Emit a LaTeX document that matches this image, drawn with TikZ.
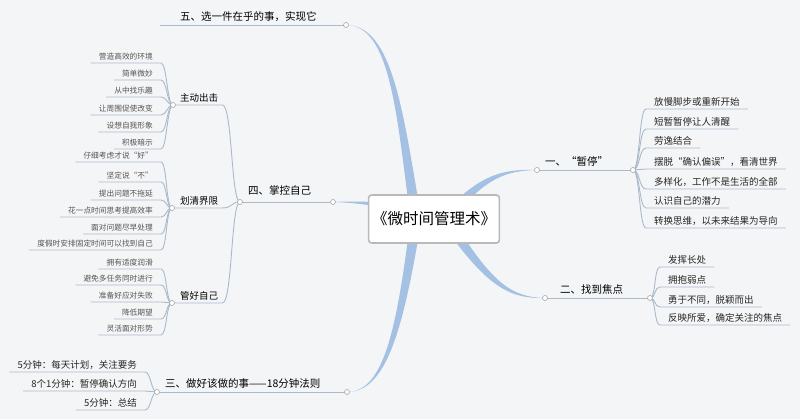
\documentclass[tikz,border=0pt]{standalone}
\usepackage{fontspec}
\setmainfont{Noto Sans CJK SC}
\usetikzlibrary{calc,backgrounds}

\definecolor{bgcol}{HTML}{F4F5F7}
\definecolor{trunkcol}{HTML}{A4C0E2}
\definecolor{twigcol}{HTML}{A9BACB}
\definecolor{leafgray}{HTML}{555555}

% tapered main branch: start, control 1, control 2, end, half width at start
\newcommand\branchtrunk[5]{%
  \fill[trunkcol] ($#1+#5$) .. controls ($#2+0.6*#5$) and ($#3+0.25*#5$) .. #4
    .. controls ($#3-0.25*#5$) and ($#2-0.6*#5$) .. ($#1-#5$) -- cycle;}

\begin{document}
\begin{tikzpicture}[x=1pt, y=-1pt,
  central/.style={rectangle, draw=gray!55, line width=1.6pt, fill=white, rounded corners=3pt, minimum width=128pt, minimum height=48pt, font=\fontsize{15.5}{18}\selectfont},
  topic/.style={anchor=south west, inner xsep=5pt, inner ysep=3pt, font=\fontsize{10.5}{12}\selectfont},
  subtopic/.style={anchor=south west, inner xsep=4pt, inner ysep=2.5pt, font=\fontsize{9.5}{11}\selectfont},
  leafr/.style={anchor=south west, inner xsep=8pt, inner ysep=2.5pt, text=black!85, font=\fontsize{9.5}{11}\selectfont},
  leafl/.style={anchor=south east, inner xsep=8pt, inner ysep=2.5pt, text=leafgray, font=\fontsize{7.7}{9}\selectfont},
  leafb/.style={anchor=south east, inner xsep=8pt, inner ysep=2.5pt, text=black!85, font=\fontsize{9.5}{11}\selectfont},
  twig/.style={draw=twigcol, line width=0.9pt},
  dot/.style={circle, draw=gray!70, fill=white, line width=0.6pt, inner sep=0pt, minimum size=5pt}]

  \useasboundingbox (0,0) rectangle (800,419);

  \node [central] (root) at (434,219) {《微时间管理术》};

  % ends of the main branches
  \coordinate (pausein) at (537,170);   \coordinate (pausefan) at (633,170);
  \coordinate (focusin) at (545,298);   \coordinate (focusfan) at (650,298);
  \coordinate (rulein) at (347,392);    \coordinate (rulefan) at (157,392);
  \coordinate (ctrlin) at (333,202);    \coordinate (ctrlfan) at (240,202);
  \coordinate (choosein) at (346,25);   \coordinate (chooseend) at (160,25);

  \begin{scope}[on background layer]
    \fill[bgcol] (0,0) rectangle (800,419);
    \branchtrunk{($(root.center)+(-18,0)$)}{(400,115)}{(392,25)}{(choosein)}{(5.5,0)}
    \branchtrunk{($(root.center)+(-18,0)$)}{(400,330)}{(385,392)}{(rulein)}{(5.5,0)}
    \branchtrunk{($(root.center)+(-10,-5)$)}{(380,203)}{(360,202)}{(ctrlin)}{(0,4)}
    \branchtrunk{($(root.center)+(15,-5)$)}{(485,175)}{(505,170)}{(pausein)}{(3.5,3.5)}
    \branchtrunk{($(root.center)+(15,5)$)}{(490,285)}{(510,298)}{(focusin)}{(4.3,-3)}
  \end{scope}

  % main topics
  \node [topic] (choose) at (175,25) {五、选一件在乎的事，实现它};
  \node [topic] (ctrl) at (243,199) {四、掌控自己};
  \node [topic] (pause) at (540,170) {一、“暂停”};
  \node [topic] (focus) at (555,298) {二、找到焦点};
  \node [topic] (rule) at (160,392) {三、做好该做的事——18分钟法则};

  \draw[twig] (choosein) -- (chooseend);
  \draw[twig] (ctrlin) -- (ctrlfan);
  \draw[twig] (pausein) -- (pausefan);
  \draw[twig] (focusin) -- (focusfan);
  \draw[twig] (rulein) -- (rulefan);

  % 一
  \node [leafr] (pause1) at (646,109) {放慢脚步或重新开始};
  \node [leafr] (pause2) at (646,129) {短暂暂停让人清醒};
  \node [leafr] (pause3) at (646,148) {劳逸结合};
  \node [leafr] (pause4) at (646,169) {摆脱“确认偏误”，看清世界};
  \node [leafr] (pause5) at (646,189) {多样化，工作不是生活的全部};
  \node [leafr] (pause6) at (646,208) {认识自己的潜力};
  \node [leafr] (pause7) at (646,228) {转换思维，以未来结果为导向};
  \foreach \i in {1,...,7}
    \draw[twig] (pausefan) .. controls +(7,0) and +(-7,0) .. (pause\i.south west) -- (pause\i.south east);

  % 二
  \node [leafr] (focus1) at (660,267) {发挥长处};
  \node [leafr] (focus2) at (660,287) {拥抱弱点};
  \node [leafr] (focus3) at (660,307) {勇于不同，脱颖而出};
  \node [leafr] (focus4) at (660,325) {反映所爱，确定关注的焦点};
  \foreach \i in {1,...,4}
    \draw[twig] (focusfan) .. controls +(6,0) and +(-6,0) .. (focus\i.south west) -- (focus\i.south east);

  % 三
  \node [leafb] (rule1) at (145,372) {5分钟：每天计划，关注要务};
  \node [leafb] (rule2) at (145,391) {8个1分钟：暂停确认方向};
  \node [leafb] (rule3) at (145,410) {5分钟：总结};
  \foreach \i in {1,...,3}
    \draw[twig] (rulefan) .. controls +(-6,0) and +(6,0) .. (rule\i.south east) -- (rule\i.south west);

  % 四
  \node [subtopic] (act) at (176,105) {主动出击};
  \node [subtopic] (limit) at (176,208) {划清界限};
  \node [subtopic] (self) at (176,303) {管好自己};
  \coordinate (actfan) at (173,105);
  \coordinate (limitfan) at (172,208);
  \coordinate (selffan) at (172,303);
  \foreach \s in {act,limit,self}
    \draw[twig] (ctrlfan) .. controls +(-9,0) and +(10,0) .. (\s.south east) -- (\s fan);

  \node [leafl] (act1) at (161,63) {营造高效的环境};
  \node [leafl] (act2) at (161,80) {简单微妙};
  \node [leafl] (act3) at (161,97) {从中找乐趣};
  \node [leafl] (act4) at (161,115) {让周围促使改变};
  \node [leafl] (act5) at (161,132) {设想自我形象};
  \node [leafl] (act6) at (161,149) {积极暗示};
  \foreach \i in {1,...,6}
    \draw[twig] (actfan) .. controls +(-6,0) and +(6,0) .. (act\i.south east) -- (act\i.south west);

  \node [leafl] (limit1) at (161,162) {仔细考虑才说“好”};
  \node [leafl] (limit2) at (161,182) {坚定说“不”};
  \node [leafl] (limit3) at (161,200) {提出问题不拖延};
  \node [leafl] (limit4) at (161,217) {花一点时间思考提高效率};
  \node [leafl] (limit5) at (161,234) {面对问题尽早处理};
  \node [leafl] (limit6) at (161,250) {度假时安排固定时间可以找到自己};
  \foreach \i in {1,...,6}
    \draw[twig] (limitfan) .. controls +(-6,0) and +(6,0) .. (limit\i.south east) -- (limit\i.south west);

  \node [leafl] (self1) at (161,269) {拥有适度润滑};
  \node [leafl] (self2) at (161,285) {避免多任务同时进行};
  \node [leafl] (self3) at (161,302) {准备好应对失败};
  \node [leafl] (self4) at (161,319) {降低期望};
  \node [leafl] (self5) at (161,335) {灵活面对形势};
  \foreach \i in {1,...,5}
    \draw[twig] (selffan) .. controls +(-6,0) and +(6,0) .. (self\i.south east) -- (self\i.south west);

  % joints
  \foreach \p in {choosein,ctrlin,ctrlfan,pausein,pausefan,focusin,focusfan,rulein,rulefan,actfan,limitfan,selffan}
    \node [dot] at (\p) {};
\end{tikzpicture}
\end{document}
